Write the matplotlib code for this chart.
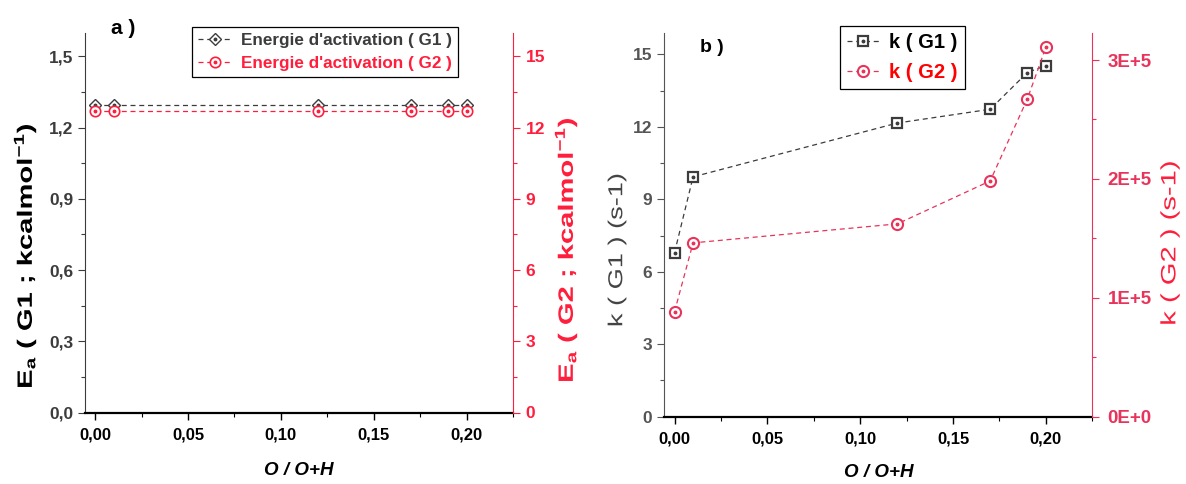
import numpy as np
import matplotlib
matplotlib.use("Agg")
import matplotlib.pyplot as plt
import matplotlib.transforms as mtransforms
from matplotlib.legend_handler import HandlerTuple
from matplotlib.ticker import FixedLocator, MultipleLocator, FuncFormatter
from matplotlib.textpath import TextPath
from matplotlib.patches import PathPatch
from matplotlib.font_manager import FontProperties

plt.rcParams['font.family'] = ['Liberation Sans', 'DejaVu Sans']

# O / O+H ratio
x = [0.00, 0.01, 0.12, 0.17, 0.19, 0.20]

# panel a : activation energy
ea_g1 = [1.295, 1.295, 1.295, 1.295, 1.295, 1.295]
ea_g2 = [12.71, 12.71, 12.71, 12.71, 12.71, 12.71]

# panel b : rate constants
k_g1 = [6.79, 9.93, 12.16, 12.73, 14.25, 14.54]
k_g2 = [0.882e5, 1.462e5, 1.622e5, 1.983e5, 2.672e5, 3.107e5]

xticks = [0.00, 0.05, 0.10, 0.15, 0.20]
xticklabels = ['0,00', '0,05', '0,10', '0,15', '0,20']

GREY = '#3c3c3c'
RED = '#ff1e3c'
PINK = '#e8335a'

W, H = 1186, 484
fig = plt.figure(figsize=(W / 100, H / 100), dpi=100)


def pos(l, r, b, t):
    return [l / W, 1 - b / H, (r - l) / W, (b - t) / H]


def vlabel(s, xc, yc, size, stretch, color, weight='bold'):
    # rotated axis title, stretched along its length like the original figure
    fp = FontProperties(family='Liberation Sans', weight=weight)
    tp = TextPath((0, 0), s, size=size * 100 / 72, prop=fp)
    bb = tp.get_extents()
    tr = (mtransforms.Affine2D()
          .translate(-(bb.x0 + bb.x1) / 2, -(bb.y0 + bb.y1) / 2)
          .scale(stretch, 1).rotate_deg(90).translate(xc, H - yc))
    fig.add_artist(PathPatch(tp, transform=tr, facecolor=color, edgecolor='none'))


def style_xaxis(ax, labelpad):
    ax.set_xlim(-0.0055, 0.225)
    ax.xaxis.set_major_locator(FixedLocator(xticks))
    ax.set_xticklabels(xticklabels, fontsize=12, fontweight='bold', color='black')
    ax.xaxis.set_minor_locator(MultipleLocator(0.025))
    ax.tick_params(axis='x', which='major', length=5, width=1, direction='out', pad=6)
    ax.tick_params(axis='x', which='minor', length=3, width=0.8, direction='out')
    ax.spines['bottom'].set_linewidth(1.6)
    ax.spines['bottom'].set_color('black')
    ax.spines['top'].set_visible(False)
    ax.set_xlabel('O / O+H', fontsize=13.5, fontweight='bold', fontstyle='italic',
                  labelpad=labelpad)


def open_dot(ax, xs, ys, marker, color, ms, mew):
    ln, = ax.plot(xs, ys, linestyle=(0, (4, 3)), lw=0.9, color=color, marker=marker,
                  markersize=ms, markerfacecolor='white', markeredgecolor=color,
                  markeredgewidth=mew)
    dot, = ax.plot(xs, ys, linestyle='none', marker='o', markersize=1.8, color=color)
    return ln, dot


def style_left(ax, color, size):
    ax.tick_params(axis='y', which='major', length=5, width=0.8, colors=color, labelsize=size)
    ax.tick_params(axis='y', which='minor', length=3, width=0.8, colors=color)
    for lab in ax.get_yticklabels():
        lab.set_fontweight('bold')
    ax.spines['left'].set_color(color)
    ax.spines['left'].set_linewidth(0.8)
    ax.spines['right'].set_visible(False)


def style_right(ax, color, size, pad):
    ax.tick_params(axis='y', which='major', length=5, width=0.8, colors=color,
                   labelsize=size, pad=pad)
    ax.tick_params(axis='y', which='minor', length=3, width=0.8, colors=color)
    for lab in ax.get_yticklabels():
        lab.set_fontweight('bold')
    ax.spines['right'].set_color(color)
    ax.spines['right'].set_linewidth(0.8)
    for side in ['left', 'top', 'bottom']:
        ax.spines[side].set_visible(False)


# ---------------- panel a ----------------
axa = fig.add_axes(pos(85, 513, 412.5, 32.7))
axa2 = axa.twinx()
style_xaxis(axa, 14)
axa.set_ylim(0, 1.6)
axa.yaxis.set_major_locator(FixedLocator([0, 0.3, 0.6, 0.9, 1.2, 1.5]))
axa.yaxis.set_minor_locator(MultipleLocator(0.15))
axa.yaxis.set_major_formatter(FuncFormatter(lambda v, p: f'{v:.1f}'.replace('.', ',')))
style_left(axa, GREY, 12.5)

axa2.set_ylim(0, 16)
axa2.yaxis.set_major_locator(FixedLocator([0, 3, 6, 9, 12, 15]))
axa2.yaxis.set_minor_locator(MultipleLocator(1.5))
style_right(axa2, RED, 12.5, 4)

la1 = open_dot(axa, x, ea_g1, 'D', GREY, 6.5, 1.0)
la2 = open_dot(axa2, x, ea_g2, 'o', RED, 7.5, 1.2)
leg = axa2.legend([la1, la2], ["Energie d'activation ( G1 )", "Energie d'activation ( G2 )"],
                  loc='upper left', bbox_to_anchor=(192 / W, 1 - 27 / H),
                  bbox_transform=fig.transFigure, borderaxespad=0,
                  frameon=True, fancybox=False, edgecolor='black', framealpha=1,
                  prop={'weight': 'bold', 'size': 12.3}, handlelength=2.0,
                  handletextpad=0.5, borderpad=0.35, labelspacing=0.45,
                  handler_map={tuple: HandlerTuple(ndivide=1)})
leg.get_frame().set_linewidth(0.9)
leg.get_texts()[0].set_color(GREY)
leg.get_texts()[1].set_color(RED)
fig.text(111 / W, 1 - 28 / H, 'a )', fontsize=15, fontweight='bold', ha='left', va='center')

vlabel('E$_\\mathregular{a}$ ( G1 ; kcalmol$^\\mathregular{-1}$)', 25, 256, 15, 1.4, 'black')
vlabel('E$_\\mathregular{a}$ ( G2 ; kcalmol$^\\mathregular{-1}$)', 566, 250, 15, 1.4, RED)

# ---------------- panel b ----------------
axb = fig.add_axes(pos(664.3, 1092.3, 416.7, 32.7))
axb2 = axb.twinx()
style_xaxis(axb, 12)
axb.set_ylim(0, 15.9)
axb.yaxis.set_major_locator(FixedLocator([0, 3, 6, 9, 12, 15]))
axb.yaxis.set_minor_locator(MultipleLocator(1.5))
style_left(axb, '#555555', 12.5)

axb2.set_ylim(0, 3.23e5)
axb2.yaxis.set_major_locator(FixedLocator([0, 1e5, 2e5, 3e5]))
axb2.yaxis.set_minor_locator(MultipleLocator(0.5e5))
axb2.yaxis.set_major_formatter(
    FuncFormatter(lambda v, p: f'{int(round(v / 1e5))}E+{0 if v == 0 else 5}'))
style_right(axb2, PINK, 13.5, 6)

lb1 = open_dot(axb, x, k_g1, 's', GREY, 7, 1.6)
lb2 = open_dot(axb2, x, k_g2, 'o', PINK, 8, 1.5)
legb = axb2.legend([lb1, lb2], ['k ( G1 )', 'k ( G2 )'],
                   loc='upper left', bbox_to_anchor=(840 / W, 1 - 26 / H),
                   bbox_transform=fig.transFigure, borderaxespad=0,
                   frameon=True, fancybox=False, edgecolor='black', framealpha=1,
                   prop={'weight': 'bold', 'size': 14.5}, handlelength=1.6,
                   handletextpad=0.5, borderpad=0.35, labelspacing=0.55,
                   handler_map={tuple: HandlerTuple(ndivide=1)})
legb.get_frame().set_linewidth(0.9)
legb.get_texts()[0].set_color('black')
legb.get_texts()[1].set_color('#ff0000')
fig.text(700 / W, 1 - 47 / H, 'b )', fontsize=14, fontweight='bold', ha='left', va='center')

vlabel('k ( G1 ) (s-1)', 617, 250, 14.5, 1.35, '#444444', weight='normal')
vlabel('k ( G2 ) (s-1)', 1170, 243, 15, 1.4, RED, weight='normal')

fig.savefig('out.png', dpi=100)
